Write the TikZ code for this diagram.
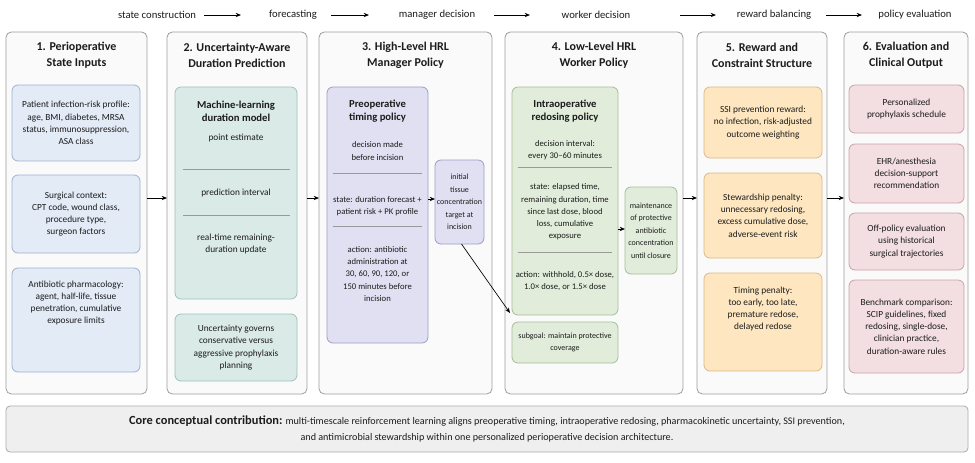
\documentclass[tikz,border=0pt]{standalone}
\usepackage{fontspec}
\setmainfont{Carlito}
\usetikzlibrary{arrows.meta,calc}
\definecolor{colfill}{HTML}{FAFAFA}
\definecolor{colline}{HTML}{9E9E9E}
\definecolor{bluef}{HTML}{E2EBF6}\definecolor{bluel}{HTML}{9DB2CF}
\definecolor{tealf}{HTML}{DAEAE7}\definecolor{teall}{HTML}{9FC0BA}
\definecolor{lavf}{HTML}{E1E0F3}\definecolor{lavl}{HTML}{9E9CC6}
\definecolor{greenf}{HTML}{E1ECDA}\definecolor{greenl}{HTML}{A3BF97}
\definecolor{orgf}{HTML}{FDE6C0}\definecolor{orgl}{HTML}{DDB985}
\definecolor{pinkf}{HTML}{F3DEE1}\definecolor{pinkl}{HTML}{C9A2A8}
\definecolor{botf}{HTML}{EFEFEF}\definecolor{botl}{HTML}{ABABAB}
\definecolor{txt}{HTML}{1C1C1C}
\newcommand\pbox[6]{\node[#1,minimum width={(#5-#3)*0.75pt},minimum height={(#6-#4)*0.75pt}] (#2) at ({(#3+#5)/2},{(#4+#6)/2}) {};}
\begin{document}
\begin{tikzpicture}[x=0.75pt,y=-0.75pt,
  colbox/.style={draw=colline,fill=colfill,rounded corners=4pt,line width=0.6pt,inner sep=0pt,outer sep=0pt},
  ibox/.style={rounded corners=4.5pt,line width=0.6pt,inner sep=0pt,outer sep=0pt},
  bluebox/.style={ibox,draw=bluel,fill=bluef},
  tealbox/.style={ibox,draw=teall,fill=tealf},
  lavbox/.style={ibox,draw=lavl,fill=lavf},
  greenbox/.style={ibox,draw=greenl,fill=greenf},
  orgbox/.style={ibox,draw=orgl,fill=orgf},
  pinkbox/.style={ibox,draw=pinkl,fill=pinkf},
  botbox/.style={draw=botl,fill=botf,rounded corners=3pt,line width=0.6pt,inner sep=0pt,outer sep=0pt},
  coltitle/.style={font=\fontsize{9}{12}\selectfont\bfseries,align=center,inner sep=0pt,text=txt},
  boxhead/.style={font=\fontsize{8}{9.6}\selectfont\bfseries,align=center,inner sep=0pt,text=txt},
  body/.style={font=\fontsize{7}{9.2}\selectfont,align=center,inner sep=0pt,text=txt},
  smallbody/.style={font=\fontsize{6.5}{9.2}\selectfont,align=center,inner sep=0pt,text=txt},
  tinybody/.style={font=\fontsize{6}{9.4}\selectfont,align=center,inner sep=0pt,text=txt},
  hdr/.style={font=\fontsize{8}{10}\selectfont,inner sep=0pt,text=txt},
  arr/.style={-{Stealth[length=4pt,width=3.2pt]},line width=0.6pt,black},
  divline/.style={draw=gray!80,line width=0.5pt}]
\useasboundingbox (0,0) rectangle (975,462);
\fill[white] (0,0) rectangle (975,462);

% header
\node[hdr] (h1) at (157,15) {state construction};
\node[hdr] (h2) at (293,15) {forecasting};
\node[hdr] (h3) at (437,15) {manager decision};
\node[hdr] (h4) at (596,15) {worker decision};
\node[hdr] (h5) at (774,15) {reward balancing};
\node[hdr] (h6) at (915,15) {policy evaluation};
\coordinate (ha1s) at (204,15); \coordinate (ha1e) at (241,15);
\coordinate (ha2s) at (331,15); \coordinate (ha2e) at (369,15);
\coordinate (ha3s) at (494,15); \coordinate (ha3e) at (530,15);
\coordinate (ha4s) at (680,15); \coordinate (ha4e) at (716,15);
\coordinate (ha5s) at (826,15); \coordinate (ha5e) at (862,15);
\foreach \i in {1,...,5}{\draw[arr] (ha\i s) -- (ha\i e);}

% columns
\pbox{colbox}{c1}{6}{32}{147}{394}
\pbox{colbox}{c2}{167}{32}{307}{394}
\pbox{colbox}{c3}{319}{32}{492}{394}
\pbox{colbox}{c4}{505}{32}{683}{394}
\pbox{colbox}{c5}{697}{32}{827}{394}
\pbox{colbox}{c6}{844}{32}{968}{394}

\node[coltitle] (t1) at (c1.center |- 0,55) {1. Perioperative\\State Inputs};
\node[coltitle] (t2) at (c2.center |- 0,55) {2. Uncertainty-Aware\\Duration Prediction};
\node[coltitle] (t3) at (c3.center |- 0,55) {3. High-Level HRL\\Manager Policy};
\node[coltitle] (t4) at (c4.center |- 0,55) {4. Low-Level HRL\\Worker Policy};
\node[coltitle] (t5) at (c5.center |- 0,55) {5. Reward and\\Constraint Structure};
\node[coltitle] (t6) at (c6.center |- 0,55) {6. Evaluation and\\Clinical Output};

% column 1
\pbox{bluebox}{b11}{12}{85}{140}{161}
\pbox{bluebox}{b12}{12}{175}{140}{253}
\pbox{bluebox}{b13}{12}{268}{140}{372}
\node[body] (x11) at (b11.center) {Patient infection-risk profile:\\age, BMI, diabetes, MRSA\\status, immunosuppression,\\ASA class};
\node[body] (x12) at (b12.center) {Surgical context:\\CPT code, wound class,\\procedure type,\\surgeon factors};
\node[body] (x13) at (b13.center |- 0,303) {Antibiotic pharmacology:\\agent, half-life, tissue\\penetration, cumulative\\exposure limits};

% column 2
\pbox{tealbox}{b21}{175}{87}{297}{299}
\pbox{tealbox}{b22}{175}{314}{297}{381}
\node[boxhead] (x21h) at (b21.center |- 0,111) {Machine-learning\\duration model};
\node[body] (x21a) at (b21.center |- 0,138) {point estimate};
\node[body] (x21b) at (b21.center |- 0,193) {prediction interval};
\node[body] (x21c) at (b21.center |- 0,244) {real-time remaining-\\duration update};
\draw[divline] ($(b21.west |- 0,169)+(8,0)$) -- ($(b21.east |- 0,169)+(-7,0)$);
\draw[divline] ($(b21.west |- 0,215)+(8,0)$) -- ($(b21.east |- 0,215)+(-7,0)$);
\node[body] (x22) at (b22.center) {Uncertainty governs\\conservative versus\\aggressive prophylaxis\\planning};

% column 3
\pbox{lavbox}{b31}{327}{87}{428}{343}
\pbox{lavbox}{b32}{435}{160}{484}{244}
\node[boxhead] (x31h) at (b31.center |- 0,111) {Preoperative\\timing policy};
\node[smallbody] (x31a) at (b31.center |- 0,151) {decision made\\before incision};
\node[smallbody] (x31b) at (b31.center |- 0,206) {state: duration forecast +\\patient risk + PK profile};
\node[smallbody] (x31c) at (b31.center |- 0,274) {action: antibiotic\\administration at\\30, 60, 90, 120, or\\150 minutes before\\incision};
\draw[divline] ($(b31.west |- 0,173)+(6,0)$) -- ($(b31.east |- 0,173)+(-6,0)$);
\draw[divline] ($(b31.west |- 0,226)+(6,0)$) -- ($(b31.east |- 0,226)+(-6,0)$);
\node[tinybody] (x32) at (b32.center) {initial\\tissue\\concentration\\target at\\incision};

% column 4
\pbox{greenbox}{b41}{512}{87}{618}{315}
\pbox{greenbox}{b42}{512}{322}{618}{363}
\pbox{greenbox}{b43}{625}{187}{677}{274}
\node[boxhead] (x41h) at (b41.center |- 0,111) {Intraoperative\\redosing policy};
\node[smallbody] (x41a) at (b41.center |- 0,150) {decision interval:\\every 30--60 minutes};
\node[smallbody] (x41b) at (b41.center |- 0,212) {state: elapsed time,\\remaining duration, time\\since last dose, blood\\loss, cumulative\\exposure};
\node[smallbody] (x41c) at (b41.center |- 0,281) {action: withhold, 0.5× dose,\\1.0× dose, or 1.5× dose};
\draw[divline] ($(b41.west |- 0,167)+(6,0)$) -- ($(b41.east |- 0,167)+(-6,0)$);
\draw[divline] ($(b41.west |- 0,252)+(6,0)$) -- ($(b41.east |- 0,252)+(-6,0)$);
\node[tinybody] (x42) at (b42.center) {subgoal: maintain protective\\coverage};
\node[tinybody] (x43) at (b43.center) {maintenance\\of protective\\antibiotic\\concentration\\until closure};

% column 5
\pbox{orgbox}{b51}{704}{87}{822}{158}
\pbox{orgbox}{b52}{704}{173}{822}{258}
\pbox{orgbox}{b53}{704}{273}{822}{371}
\node[body] (x51) at (b51.center) {SSI prevention reward:\\no infection, risk-adjusted\\outcome weighting};
\node[body] (x52) at (b52.center) {Stewardship penalty:\\unnecessary redosing,\\excess cumulative dose,\\adverse-event risk};
\node[body] (x53) at (b53.center |- 0,309) {Timing penalty:\\too early, too late,\\premature redose,\\delayed redose};

% column 6
\pbox{pinkbox}{b61}{849}{85}{964}{133}
\pbox{pinkbox}{b62}{849}{144}{964}{203}
\pbox{pinkbox}{b63}{849}{213}{964}{270}
\pbox{pinkbox}{b64}{849}{280}{964}{373}
\node[body] (x61) at (b61.center) {Personalized\\prophylaxis schedule};
\node[body] (x62) at (b62.center) {EHR/anesthesia\\decision-support\\recommendation};
\node[body] (x63) at (b63.center) {Off-policy evaluation\\using historical\\surgical trajectories};
\node[body] (x64) at (b64.center) {Benchmark comparison:\\SCIP guidelines, fixed\\redosing, single-dose,\\clinician practice,\\duration-aware rules};

% connectors
\coordinate (ay) at (0,198);
\draw[arr] (c1.east |- ay) -- (c2.west |- ay);
\draw[arr] (c2.east |- ay) -- (c3.west |- ay);
\draw[arr] (c4.east |- ay) -- (c5.west |- ay);
\draw[arr] (c5.east |- ay) -- (c6.west |- ay);
\coordinate (ay2) at (0,199);
\draw[arr] (b31.east |- ay2) -- (b32.west |- ay2);
\coordinate (ay3) at (0,229);
\draw[arr] (b41.east |- ay3) -- (b43.west |- ay3);
\draw[arr,line width=0.5pt] ($(b32.south)+(2,0)$) -- ($(b41.south west)+(-2,-2)$);

% bottom
\pbox{botbox}{bot}{6}{406}{968}{452}
\node[font=\fontsize{7.6}{11.5}\selectfont,align=center,inner sep=0pt,text=txt] (xbot) at (bot.center) {{\fontsize{9.3}{11.5}\selectfont\bfseries Core conceptual contribution:} multi-timescale reinforcement learning aligns preoperative timing, intraoperative redosing, pharmacokinetic uncertainty, SSI prevention,\\and antimicrobial stewardship within one personalized perioperative decision architecture.};
\end{tikzpicture}
\end{document}
